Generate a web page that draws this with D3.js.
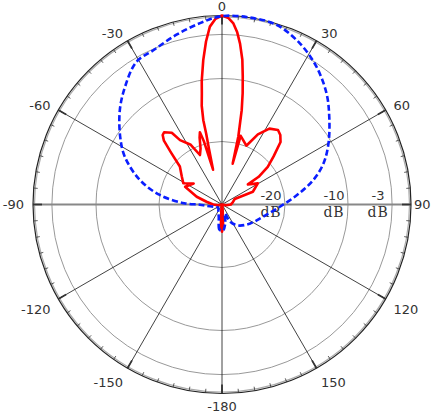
<!DOCTYPE html>
<html lang="en">
<head>
    <meta charset="UTF-8">
    <title>Polar pattern</title>
    <style>
        body {
            margin: 0;
            padding: 0;
            overflow: hidden;
            background-color: #ffffff;
        }

        svg {
            display: block;
        }

        .lbl {
            font-family: "DejaVu Sans", sans-serif;
            font-size: 13px;
            fill: #333;
        }

        .unit {
            font-family: "DejaVu Serif", serif;
            font-size: 14px;
            fill: #333;
            letter-spacing: 1px;
        }
    </style>
</head>
<body>
    <script src="https://d3js.org/d3.v7.min.js"></script>
    <script>
        // angle ticks (deg, 0 = up, clockwise) and their labels
        const angleTicks = [0, 30, 60, 90, 120, 150, 180, -150, -120, -90, -60, -30];
        const angleLabels = ["0", "30", "60", "90", "120", "150", "-180", "-150", "-120", "-90", "-60", "-30"];

        // dB rings
        const ringValues = [-20, -10, -3];
        const ringLabels = ["-20", "-10", "-3"];

        // red pattern: angle (deg) / level (dB)
        const redAngles = [-180, -177, -172, -150, -120, -100, -90, -80, -72.9, -64.3, -53.5, -61.3, -55, -48, -44.5, -42.3,
            -40.5, -38.7, -35, -33.1, -27.6, -24, -21, -18.5, -17, -16, -14.4, -13.2, -12.6, -12.5, -11.6, -10.3, -9.3,
            -7.4, -5.6, -3.9, -2, 0, 2, 3.6, 5, 6.4, 8, 9.2, 10.5, 11.8, 13.5, 14.6, 15.2, 18, 22.5, 27.1, 32, 36.9, 40,
            43.1, 47, 50.6, 52.9, 52.2, 59.5, 67.6, 66.6, 80, 90, 100, 120, 150, 172, 177];
        const redDb = [-25.7, -26.5, -29.3, -30, -30, -29.3, -28.6, -27.5, -25.8, -23.5, -24.4, -23.0, -22.2, -21.0, -18.5, -16.3,
            -15.5, -15.3, -16.1, -17.8, -19.3, -21.4, -20.5, -18.8, -18.0, -19.5, -24.3, -21, -18.5, -16.3, -14, -12.1, -10.1,
            -6.9, -4.0, -1.7, -0.5, 0, -0.4, -1.2, -2.5, -4.3, -6.8, -9.4, -12, -14.7, -18.9, -23.3, -18.7, -19.2, -19.9, -17.5, -15.8, -15.2, -15.6,
            -16.4, -18.8, -20.6, -22.7, -24.8, -23.4, -24.7, -27.8, -28.3, -28.6, -29.3, -30, -30, -29.3, -26.5];

        // blue pattern
        const blueAngles = [-180, -174, -165, -153, -130, -104, -95, -90.5, -88, -81.3, -73.4, -63.8, -56.4, -47.2, -39.5, -31,
            -24, -15, -6.9, 0, 8.5, 16.9, 25.8, 34.5, 43.3, 50.7, 60.1, 67.9, 75, 82.8, 92.2, 106.5, 123.9, 142.4, 155, 161,
            170, 177];
        const blueDb = [-25.8, -26.0, -28.0, -28.7, -29.2, -28.6, -27.5, -26.5, -24, -20, -16.4, -12.8, -10.6, -7.9, -5.8, -3.6,
            -3.2, -2.1, -1.0, -0.1, 0, -0.2, -1.6, -3.5, -5.8, -8.0, -10.5, -12.6, -15.0, -18.0, -20.8, -23.2, -24.6, -25.8, -27, -28.5,
            -27, -25.9];

        const width = 431;
        const height = 413;
        const cx = 222;
        const cy = 204.5;
        const R = 189;

        const svg = d3.select('body')
            .append('svg')
            .attr('width', width)
            .attr('height', height);

        const r = d3.scaleLinear().domain([-30, 0]).range([0, R]);
        const rad = d => d * Math.PI / 180;

        const g = svg.append('g').attr('transform', `translate(${cx},${cy})`);

        // rings
        g.selectAll('circle.ring')
            .data(ringValues)
            .enter()
            .append('circle')
            .attr('class', 'ring')
            .attr('r', d => r(d))
            .attr('fill', 'none')
            .attr('stroke', '#999')
            .attr('stroke-width', 1);

        // spokes
        g.selectAll('line.spoke')
            .data(angleTicks)
            .enter()
            .append('line')
            .attr('x1', 0)
            .attr('y1', 0)
            .attr('x2', d => R * Math.sin(rad(d)))
            .attr('y2', d => -R * Math.cos(rad(d)))
            .attr('stroke', d => Math.abs(d) === 90 ? '#888' : '#111')
            .attr('stroke-width', d => Math.abs(d) === 90 ? 2 : 0.8);

        // outer frame
        g.append('circle')
            .attr('r', R - 1.5)
            .attr('fill', 'none')
            .attr('stroke', '#aaa')
            .attr('stroke-width', 1.2);
        g.append('circle')
            .attr('r', R)
            .attr('fill', 'none')
            .attr('stroke', '#222')
            .attr('stroke-width', 1.2);

        // minor ticks every 5 deg
        g.selectAll('line.minor')
            .data(d3.range(0, 360, 5))
            .enter()
            .append('line')
            .attr('x1', d => (R - 4) * Math.sin(rad(d)))
            .attr('y1', d => -(R - 4) * Math.cos(rad(d)))
            .attr('x2', d => R * Math.sin(rad(d)))
            .attr('y2', d => -R * Math.cos(rad(d)))
            .attr('stroke', '#333')
            .attr('stroke-width', 0.8);

        // major ticks
        g.selectAll('line.major')
            .data(angleTicks)
            .enter()
            .append('line')
            .attr('x1', d => (R - 9) * Math.sin(rad(d)))
            .attr('y1', d => -(R - 9) * Math.cos(rad(d)))
            .attr('x2', d => R * Math.sin(rad(d)))
            .attr('y2', d => -R * Math.cos(rad(d)))
            .attr('stroke', '#333')
            .attr('stroke-width', 1.8);

        // angle labels
        const labelPos = d => {
            const s = Math.sin(rad(d));
            const c = Math.cos(rad(d));
            const off = s > 0.99 ? 3 : 9;
            let x = (R + off) * s;
            let y = -(R + off) * c;
            if (c > 0.99) y = -cy + 6.5;
            else if (c < -0.99) y = height - cy - 6.5;
            else if (c < -0.1) y += 6;
            return [x, y];
        };

        g.selectAll('text.ang')
            .data(angleTicks)
            .enter()
            .append('text')
            .attr('class', 'lbl')
            .attr('x', d => labelPos(d)[0])
            .attr('y', d => labelPos(d)[1])
            .attr('dy', '0.35em')
            .attr('text-anchor', d => {
                const s = Math.sin(rad(d));
                return s > 0.1 ? 'start' : (s < -0.1 ? 'end' : 'middle');
            })
            .text((d, i) => angleLabels[i]);

        // ring labels
        g.selectAll('text.ringval')
            .data(ringValues)
            .enter()
            .append('text')
            .attr('class', 'lbl')
            .attr('x', d => r(d) - 14)
            .attr('y', -9.5)
            .attr('dy', '0.35em')
            .attr('text-anchor', 'middle')
            .text((d, i) => ringLabels[i]);

        g.selectAll('text.ringunit')
            .data(ringValues)
            .enter()
            .append('text')
            .attr('class', 'unit')
            .attr('x', d => r(d) - 14)
            .attr('y', 8)
            .attr('dy', '0.35em')
            .attr('text-anchor', 'middle')
            .text('dB');

        // patterns
        const redData = redAngles.map((a, i) => ({ a: a, db: redDb[i] }));
        const blueData = blueAngles.map((a, i) => ({ a: a, db: blueDb[i] }));

        const redLine = d3.lineRadial()
            .angle(d => rad(d.a))
            .radius(d => r(d.db))
            .curve(d3.curveLinearClosed);

        const blueLine = d3.lineRadial()
            .angle(d => rad(d.a))
            .radius(d => r(d.db))
            .curve(d3.curveCatmullRomClosed);

        g.append('path')
            .datum(redData)
            .attr('d', redLine)
            .attr('fill', 'none')
            .attr('stroke', '#ff0000')
            .attr('stroke-width', 2.6)
            .attr('stroke-linejoin', 'round');

        g.append('path')
            .datum(blueData)
            .attr('d', blueLine)
            .attr('fill', 'none')
            .attr('stroke', '#0a1eff')
            .attr('stroke-width', 2.6)
            .attr('stroke-dasharray', '6,3');
    </script>
</body>
</html>
